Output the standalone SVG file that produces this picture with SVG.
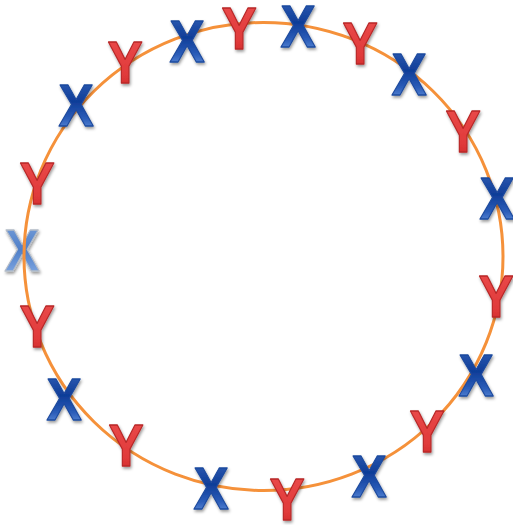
<svg xmlns="http://www.w3.org/2000/svg" xmlns:xlink="http://www.w3.org/1999/xlink" width="513" height="525" viewBox="0 0 513 525">
  <defs>
    <linearGradient id="gx" x1="0" y1="0" x2="0" y2="1">
      <stop offset="0" stop-color="#3a68bd"/>
      <stop offset="0.45" stop-color="#0f3d98"/>
      <stop offset="0.7" stop-color="#2a5cb8"/>
      <stop offset="1" stop-color="#7eaaec"/>
    </linearGradient>
    <linearGradient id="gxl" x1="0" y1="0" x2="0" y2="1">
      <stop offset="0" stop-color="#7ea4dc"/>
      <stop offset="0.5" stop-color="#4f7fc8"/>
      <stop offset="1" stop-color="#8fb4ea"/>
    </linearGradient>
    <linearGradient id="gy" x1="0" y1="0" x2="0" y2="1">
      <stop offset="0" stop-color="#f47a7a"/>
      <stop offset="0.12" stop-color="#ea4a4a"/>
      <stop offset="0.7" stop-color="#e03a3a"/>
      <stop offset="1" stop-color="#c82424"/>
    </linearGradient>
    <filter id="sh" x="-30%" y="-30%" width="160%" height="160%">
      <feDropShadow dx="1" dy="2" stdDeviation="1.5" flood-color="#000" flood-opacity="0.4"/>
    </filter>
    <text id="X" x="0" y="21.5" text-anchor="middle" class="L" fill="url(#gx)" stroke="#1d4a9e">X</text>
    <text id="Y" x="0" y="21.5" text-anchor="middle" class="L" fill="url(#gy)" stroke="#b82828">Y</text>
  </defs>
  <style>
    .L { font-family: "Liberation Sans", Arial, sans-serif; font-weight: bold; font-size: 60px; stroke-width: 1.3; stroke-linejoin: round; }
    .n { filter: url(#sh); }
  </style>
  <rect width="513" height="525" fill="#ffffff"/>
  <g id="n16" class="n"><text x="0" y="21.5" text-anchor="middle" class="L" fill="url(#gxl)" stroke="#b4bcc8" stroke-width="2.2" transform="translate(22,249) scale(0.88,1)">X</text></g>
  <g id="connectors">
    <ellipse cx="263.5" cy="256.5" rx="239.5" ry="234" fill="none" stroke="#f5913a" stroke-width="3"/>
  </g>
  <g id="n1" class="n"><use xlink:href="#Y" transform="translate(239,27) scale(0.88,1)"/></g>
  <g id="n2" class="n"><use xlink:href="#X" transform="translate(298,25) scale(0.88,1)"/></g>
  <g id="n3" class="n"><use xlink:href="#Y" transform="translate(360,42) scale(0.88,1)"/></g>
  <g id="n4" class="n"><use xlink:href="#X" transform="translate(409,73) scale(0.88,1)"/></g>
  <g id="n5" class="n"><use xlink:href="#Y" transform="translate(463,130) scale(0.88,1)"/></g>
  <g id="n6" class="n"><use xlink:href="#X" transform="translate(497,197) scale(0.88,1)"/></g>
  <g id="n7" class="n"><use xlink:href="#Y" transform="translate(496,295) scale(0.88,1)"/></g>
  <g id="n8" class="n"><use xlink:href="#X" transform="translate(476,374) scale(0.88,1)"/></g>
  <g id="n9" class="n"><use xlink:href="#Y" transform="translate(427,430) scale(0.88,1)"/></g>
  <g id="n10" class="n"><use xlink:href="#X" transform="translate(369,475) scale(0.88,1)"/></g>
  <g id="n11" class="n"><use xlink:href="#Y" transform="translate(287,498) scale(0.88,1)"/></g>
  <g id="n12" class="n"><use xlink:href="#X" transform="translate(211,487) scale(0.88,1)"/></g>
  <g id="n13" class="n"><use xlink:href="#Y" transform="translate(126,444) scale(0.88,1)"/></g>
  <g id="n14" class="n"><use xlink:href="#X" transform="translate(64,398) scale(0.88,1)"/></g>
  <g id="n15" class="n"><use xlink:href="#Y" transform="translate(37,325) scale(0.88,1)"/></g>
  <g id="n17" class="n"><use xlink:href="#Y" transform="translate(37,182) scale(0.88,1)"/></g>
  <g id="n18" class="n"><use xlink:href="#X" transform="translate(76,104) scale(0.88,1)"/></g>
  <g id="n19" class="n"><use xlink:href="#Y" transform="translate(125,61) scale(0.88,1)"/></g>
  <g id="n20" class="n"><use xlink:href="#X" transform="translate(187,40) scale(0.88,1)"/></g>
</svg>
